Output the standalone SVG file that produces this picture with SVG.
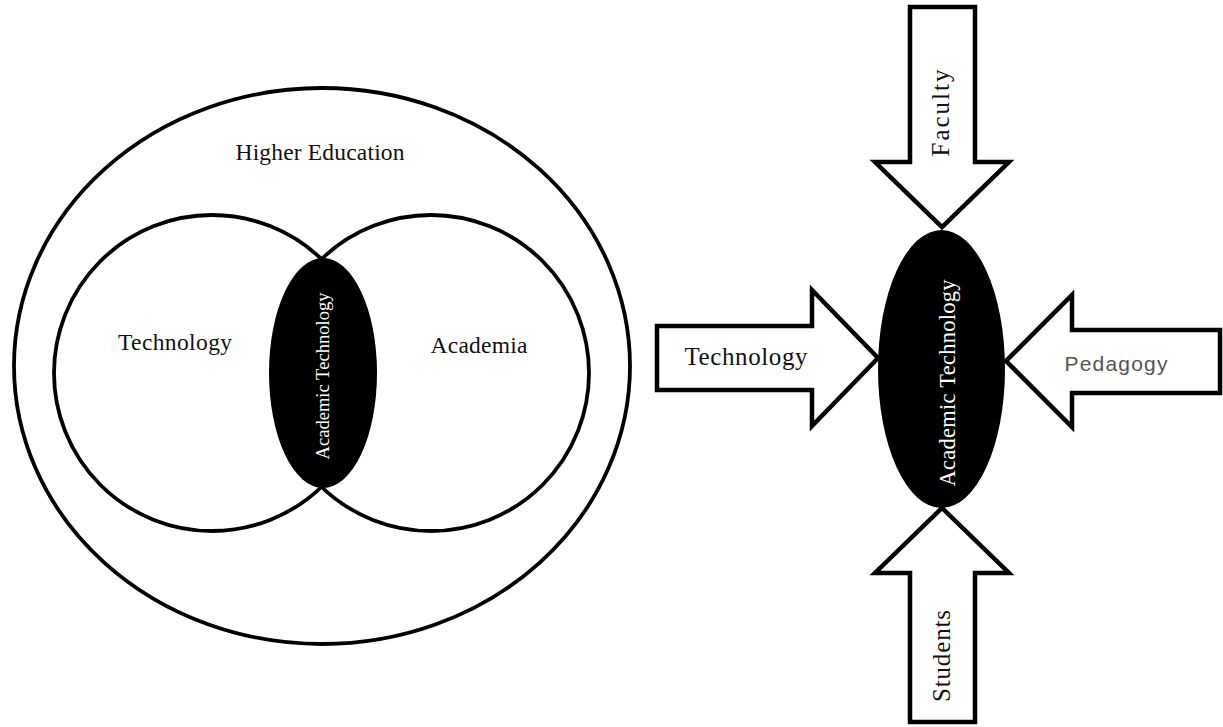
<svg xmlns="http://www.w3.org/2000/svg" width="1223" height="727" viewBox="0 0 1223 727">
<style>
.ring{fill:none;stroke:#000;stroke-width:3.8}
.blob{fill:#000;stroke:none}
.arrow{fill:#fff;stroke:#000;stroke-width:4.5;stroke-linejoin:miter}
.serif{font-family:"Liberation Serif","DejaVu Serif",serif;fill:#111}
.white{font-family:"Liberation Serif","DejaVu Serif",serif;fill:#fff}
.sans{font-family:"Liberation Sans","DejaVu Sans",sans-serif;fill:#555}
</style>
<rect width="1223" height="727" fill="#fff"/>
<g id="higher-education">
<ellipse class="ring" cx="322" cy="366" rx="308" ry="278"/>
<text class="serif" x="320" y="160" font-size="23.5" text-anchor="middle" textLength="169">Higher Education</text>
</g>
<g id="technology-circle">
<circle class="ring" cx="212" cy="373" r="158"/>
<text class="serif" x="175" y="350" font-size="23.5" text-anchor="middle" textLength="114">Technology</text>
</g>
<g id="academia-circle">
<circle class="ring" cx="431" cy="373" r="158"/>
<text class="serif" x="479" y="353" font-size="23.5" text-anchor="middle" textLength="97">Academia</text>
</g>
<g id="academic-technology-left">
<ellipse class="blob" cx="323" cy="373" rx="54" ry="115"/>
<text class="white" transform="translate(329,376) rotate(-90)" font-size="18.5" text-anchor="middle" textLength="167">Academic Technology</text>
</g>
<g id="connectors">
<path id="arrow-technology" class="arrow" d="M657,326 L812,326 L812,290 L878,358 L812,426 L812,390 L657,390 Z"/>
<path id="arrow-pedagogy" class="arrow" d="M1220,330 L1072,330 L1072,295 L1006,361 L1072,427 L1072,393 L1220,393 Z"/>
<path id="arrow-faculty" class="arrow" d="M910,7 L975,7 L975,162 L1009,162 L942,227 L875,162 L910,162 Z"/>
<path id="arrow-students" class="arrow" d="M910,722 L975,722 L975,573 L1009,573 L942,508 L875,573 L910,573 Z"/>
</g>
<g id="academic-technology-right">
<ellipse class="blob" cx="941.5" cy="369" rx="63.5" ry="139"/>
<text class="white" transform="translate(955,383) rotate(-90)" font-size="22.5" text-anchor="middle" textLength="207">Academic Technology</text>
</g>
<g id="technology-label">
<text class="serif" x="746" y="365" font-size="25" text-anchor="middle" textLength="123">Technology</text>
</g>
<g id="pedagogy-label">
<text class="sans" x="1116" y="371" font-size="21" text-anchor="middle" textLength="103">Pedagogy</text>
</g>
<g id="faculty-label">
<text class="serif" transform="translate(949,113) rotate(-90)" font-size="25" text-anchor="middle" textLength="87">Faculty</text>
</g>
<g id="students-label">
<text class="serif" transform="translate(950,656) rotate(-90)" font-size="25" text-anchor="middle" textLength="92">Students</text>
</g>
</svg>
